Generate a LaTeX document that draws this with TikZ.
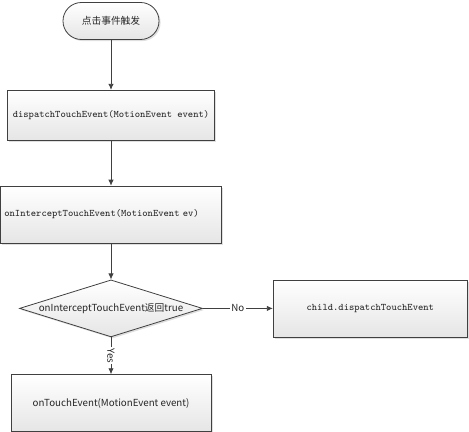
\documentclass[tikz,border=0pt]{standalone}
\usepackage{fontspec}
\newfontfamily\cjk{Noto Sans CJK SC}
\usetikzlibrary{positioning}
\usetikzlibrary{shapes.geometric,shadows,arrows.meta}
\pgfkeys{tikz/flowline/.style={draw=black!75,line width=0.6pt,-{Latex[length=4.5pt,width=4pt]}}}
\pgfkeys{tikz/flowbox/.style={draw=black!75,line width=0.6pt,top color=white,bottom color=black!10,drop shadow={shadow xshift=1.2pt,shadow yshift=-1.2pt,opacity=0.25},inner sep=2pt}}
\pgfkeys{tikz/decision/.style={flowbox,diamond,inner sep=0pt,minimum width=137.25pt,minimum height=42.75pt}}
\pgfkeys{tikz/codetext/.style={font=\ttfamily\fontsize{7.5}{9}\selectfont,text=black!85}}
\pgfkeys{tikz/sanstext/.style={font=\cjk\fontsize{7.3}{9}\selectfont,text=black!85}}

\begin{document}
\begin{tikzpicture}[x=0.75pt,y=-0.75pt]
    \useasboundingbox (0,0) rectangle (469,432);
    % main column
    \node[flowbox, rounded corners=13.8pt, minimum width=72pt, minimum height=27.75pt, sanstext] (start) at (111,21) {点击事件触发};
    \node[flowbox, minimum width=155.25pt, minimum height=37.5pt, codetext, below=37.5pt of start] (dispatch) {dispatchTouchEvent(MotionEvent event)};
    \node[flowbox, minimum width=165.75pt, minimum height=42.75pt, text width=160pt, align=left, codetext, below=33.75pt of dispatch] (intercept) {onInterceptTouchEvent(MotionEvent ev)};
    \node[decision, below=27pt of intercept] (check) {};
    \node[sanstext] (checktext) at (check) {onInterceptTouchEvent返回true};
    \node[flowbox, minimum width=145.5pt, minimum height=42.75pt, codetext, right=52.5pt of check] (child) {child.dispatchTouchEvent};
    \node[flowbox, minimum width=150pt, minimum height=42.75pt, sanstext, below=27.75pt of check] (touch) {onTouchEvent(MotionEvent event)};
    % connectors
    \draw[flowline] (start) -- (dispatch);
    \draw[flowline] (dispatch) -- (intercept);
    \draw[flowline] (intercept) -- (check);
    \draw[flowline] (check) -- node[fill=white, sanstext, inner sep=1pt] (no) {No} (child);
    \draw[flowline] (check) -- node[fill=white, sanstext, inner sep=1pt, rotate=-90] (yes) {Yes} (touch);
\end{tikzpicture}
\end{document}
